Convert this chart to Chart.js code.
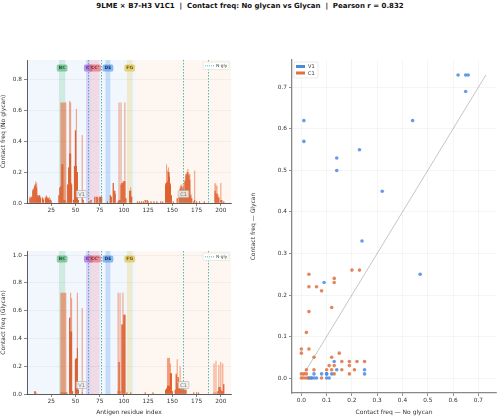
<!DOCTYPE html>
<html>
<head>
<meta charset="utf-8">
<script src="https://cdn.jsdelivr.net/npm/chart.js@4.4.0/dist/chart.umd.min.js"></script>
<style>
  body { margin:0; background:#fff; width:500px; height:416px; overflow:hidden; position:relative; font-family:"DejaVu Sans", sans-serif; }
  #title { position:absolute; left:0; top:2px; width:500px; text-align:center; font-weight:bold; font-size:7px; color:#111; white-space:pre; }
  canvas { position:absolute; }
</style>
</head>
<body>
<div id="title">9LME × B7-H3 V1C1  |  Contact freq: No glycan vs Glycan  |  Pearson r = 0.832</div>
<canvas id="topChart" width="240" height="170" style="left:0;top:50px"></canvas>
<canvas id="bottomChart" width="240" height="176" style="left:0;top:240px"></canvas>
<canvas id="scatterChart" width="250" height="366" style="left:250px;top:50px"></canvas>
<script>
// ---- residue contact data (sparse: residues with any contact) ----
const noGlyRes  = [3,4,5,6,7,8,9,10,11,12,13,14,16,17,19,20,21,22,23,24,25,33,34,35,36,37,38,39,40,42,43,44,45,46,48,49,50,51,52,53,57,58,64,66,70,72,73,75,76,77,83,86,87,89,90,91,94,95,96,97,98,99,100,101,102,106,107,108,114,116,118,120,122,124,125,128,131,134,138,140,143,144,145,146,147,148,149,151,155,157,158,159,160,161,162,163,164,165,166,167,168,169,170,172,173,175,178,183,194,195,196,197,198,200,201,203];
const noGlyPeak = [.04,.04,.04,.09,.10,.12,.14,.13,.05,.05,.05,.04,.04,.03,.04,.05,.04,.03,.04,.03,.02,.05,.10,.65,.65,.65,.65,.65,.65,.12,.23,.66,.65,.13,.02,.24,.47,.61,.20,.02,.44,.02,.01,.02,.04,.04,.04,.04,.04,.04,.01,.05,.04,.13,.08,.08,.01,.65,.02,.65,.13,.14,.14,.65,.03,.08,.10,.04,.01,.01,.01,.01,.02,.02,.01,.01,.01,.01,.01,.01,.13,.25,.21,.23,.20,.13,.05,.01,.03,.05,.10,.12,.10,.12,.08,.15,.19,.20,.22,.19,.19,.06,.03,.01,.21,.01,.01,.01,.13,.12,.11,.06,.04,.13,.02,.01];
const noGlyMean = [.03,.03,.04,.08,.09,.11,.12,.10,.05,.04,.05,.03,.03,.02,.03,.04,.03,.03,.02,.02,.01,.05,.10,.11,.25,.25,.02,.02,.01,.12,.23,.32,.32,.12,.02,.24,.47,.24,.20,.02,.03,.02,.01,.02,.04,.04,.03,.04,.04,.04,.01,.05,.04,.13,.08,.06,.01,.02,.02,.12,.13,.13,.14,.14,.03,.08,.08,.04,.01,.01,.01,.01,.02,.02,.01,.01,.01,.01,.01,.01,.12,.13,.14,.20,.17,.12,.05,.01,.03,.05,.09,.11,.08,.10,.07,.14,.18,.19,.20,.18,.15,.05,.03,.01,.02,.01,.01,.01,.08,.06,.06,.04,.03,.02,.02,.01];

const glyRes  = [8,9,35,36,37,38,39,40,41,44,45,46,47,50,51,52,53,57,94,95,96,98,99,100,101,103,107,122,130,143,144,145,146,147,148,149,150,153,154,155,156,157,158,159,160,161,162,163,164,172,175,177,193,195,197,198,199,200,201,202,203];
const glyPeak = [.02,.02,.73,.73,.73,.73,.73,.73,.01,.55,.73,.69,.02,.25,.26,.73,.03,.62,.73,.23,.73,.50,.73,.57,.57,.01,.01,.01,.01,.03,.04,.26,.26,.26,.22,.15,.02,.03,.15,.25,.12,.06,.20,.04,.03,.04,.03,.03,.03,.01,.01,.01,.22,.24,.02,.21,.05,.23,.02,.22,.07];
const glyMean = [.02,.01,.01,.01,.01,.01,.01,.01,.01,.55,.45,.45,.02,.25,.26,.33,.03,.01,.02,.23,.02,.50,.50,.57,.57,.01,.01,.01,.01,.03,.04,.06,.06,.06,.15,.15,.02,.03,.14,.08,.12,.06,.04,.04,.03,.04,.03,.03,.03,.01,.01,.01,.01,.01,.02,.05,.05,.03,.02,.02,.07];

// ---- annotations ----
const domainNames = ['V1', 'C1'];
const domainStart = [0, 112.5];
const domainEnd   = [112.5, 210.5];
const loopNames = ['BC', "C'", "CC'", 'DE', 'FG'];
const loopStart = [33, 61, 65.5, 81, 103];
const loopEnd   = [39.5, 65.5, 74.8, 86, 109];
const nglySites = [63, 76, 161, 187];

// ---- tick labels ----
const residueTicks = [25, 50, 75, 100, 125, 150, 175, 200];
const noGlyTicks = [0, 0.2, 0.4, 0.6, 0.8];
const glyTicks = [0, 0.2, 0.4, 0.6, 0.8, 1.0];
const freqTicks = [0, 0.1, 0.2, 0.3, 0.4, 0.5, 0.6, 0.7];

// ---- scatter data ----
const v1NoGly = [0.62,0.65,0.66,0.65,0.01,0.01,0.14,0.14,0.23,0.32,0.44,0.24,0.47,0.09,0.13,0.25,0.25,0.14,0.10,0.08,0.12,0.04,0.06,0.10,0.11,0.05,0.05,0.10,0.03];
const v1Gly   = [0.73,0.73,0.73,0.69,0.62,0.57,0.53,0.50,0.55,0.45,0.62,0.33,0.25,0.23,0.04,0.02,0.01,0.02,0.01,0.01,0.01,0.00,0.00,0.00,0.00,0.00,0.01,0.01,0.00];
const c1NoGly = [0.03,0.03,0.06,0.08,0.20,0.23,0.13,0.13,0.12,0.03,0.02,0.00,0.03,0.00,0.05,0.12,0.15,0.02,0.05,0.10,0.11,0.13,0.12,0.16,0.16,0.19,0.19,0.19,0.21,0.22,0.25,0.13,0.08,0.00,0.01,0.02,0.00,0.01,0.02,0.03,0.04];
const c1Gly   = [0.25,0.22,0.22,0.21,0.26,0.26,0.24,0.23,0.17,0.16,0.11,0.07,0.07,0.06,0.05,0.05,0.06,0.02,0.02,0.02,0.03,0.03,0.02,0.04,0.02,0.04,0.03,0.01,0.02,0.04,0.04,0.01,0.00,0.01,0.01,0.01,0.00,0.00,0.00,0.00,0.00];
const diagLine = [0, 0.73];

const loopFill  = ['rgba(60,180,110,0.20)', 'rgba(150,100,220,0.25)', 'rgba(225,100,130,0.20)', 'rgba(60,140,235,0.25)', 'rgba(220,200,80,0.25)'];
const loopTag   = ['rgba(60,170,100,0.55)', 'rgba(150,100,220,0.65)', 'rgba(230,90,100,0.6)', 'rgba(70,140,230,0.6)', 'rgba(225,190,60,0.65)'];
const loopText  = ['#1d5a33', '#3d2170', '#6a1a25', '#163c70', '#6a5310'];
const domainFill = ['rgba(70,145,240,0.07)', 'rgba(245,150,80,0.08)'];
const nglyColor = 'rgba(60,175,165,0.95)';

window.onload = main;

function main(){
    Chart.defaults.font.family = '"DejaVu Sans", sans-serif';
    Chart.defaults.color = '#333';
    contactBars('topChart', noGlyRes, noGlyPeak, noGlyMean, 0.925, noGlyTicks, 'Contact freq (No glycan)', '', 10, 17);
    contactBars('bottomChart', glyRes, glyPeak, glyMean, 1.03, glyTicks, 'Contact freq (Glycan)', 'Antigen residue index', 11, 22);
    scatterChart();
}

function toPoints(xs, ys){
    return xs.map(function(x, i){ return {x: x, y: ys[i]}; });
}

function fixedTicks(list){
    return function(s){ s.ticks = list.map(function(v){ return {value: v}; }); };
}

var panelDecor = {
    id: 'panelDecor',
    beforeDraw: function(chart){
        var ctx = chart.ctx, a = chart.chartArea, x = chart.scales.x;
        ctx.save();
        domainNames.forEach(function(n, i){
            var x0 = x.getPixelForValue(domainStart[i]), x1 = x.getPixelForValue(domainEnd[i]);
            x0 = Math.max(x0, a.left); x1 = Math.min(x1, a.right);
            ctx.fillStyle = domainFill[i];
            ctx.fillRect(x0, a.top, x1 - x0, a.bottom - a.top);
        });
        loopNames.forEach(function(n, i){
            var x0 = x.getPixelForValue(loopStart[i]), x1 = x.getPixelForValue(loopEnd[i]);
            ctx.fillStyle = loopFill[i];
            ctx.fillRect(x0, a.top, x1 - x0, a.bottom - a.top);
        });
        ctx.restore();
    },
    afterDatasetsDraw: function(chart){
        var ctx = chart.ctx, a = chart.chartArea, x = chart.scales.x;
        ctx.save();
        // N-glycosylation sites
        ctx.strokeStyle = nglyColor;
        ctx.lineWidth = 0.9;
        ctx.setLineDash([1.5, 1.5]);
        nglySites.forEach(function(s){
            var px = Math.round(x.getPixelForValue(s)) + 0.5;
            ctx.beginPath(); ctx.moveTo(px, a.top); ctx.lineTo(px, a.bottom); ctx.stroke();
        });
        ctx.setLineDash([]);
        // loop tags
        ctx.font = 'bold 4.5px "DejaVu Sans"';
        ctx.textAlign = 'center'; ctx.textBaseline = 'middle';
        loopNames.forEach(function(n, i){
            var cx = x.getPixelForValue((loopStart[i] + loopEnd[i]) / 2);
            var w = ctx.measureText(n).width + 4, cy = a.top + 8;
            ctx.fillStyle = loopTag[i];
            roundRect(ctx, cx - w / 2, cy - 3.5, w, 7, 1.5); ctx.fill();
            ctx.fillStyle = loopText[i];
            ctx.fillText(n, cx, cy + 0.3);
        });
        // domain tags
        ctx.font = '5px "DejaVu Sans"';
        domainNames.forEach(function(n, i){
            var cx = x.getPixelForValue((domainStart[i] + domainEnd[i]) / 2), cy = a.bottom - 9;
            var w = ctx.measureText(n).width + 4;
            ctx.fillStyle = 'rgba(240,240,240,0.85)';
            ctx.strokeStyle = '#aaa'; ctx.lineWidth = 0.6;
            roundRect(ctx, cx - w / 2, cy - 3.5, w, 7, 1); ctx.fill(); ctx.stroke();
            ctx.fillStyle = '#777';
            ctx.fillText(n, cx, cy + 0.3);
        });
        // legend
        var lx = a.right - 28, ly = a.top + 2;
        ctx.fillStyle = 'rgba(255,255,255,0.9)';
        ctx.strokeStyle = '#ddd'; ctx.lineWidth = 0.6;
        roundRect(ctx, lx, ly, 26, 7.5, 1); ctx.fill(); ctx.stroke();
        ctx.strokeStyle = nglyColor; ctx.lineWidth = 0.9;
        ctx.setLineDash([1, 1]);
        ctx.beginPath(); ctx.moveTo(lx + 2, ly + 3.8); ctx.lineTo(lx + 11, ly + 3.8); ctx.stroke();
        ctx.setLineDash([]);
        ctx.font = '4.3px "DejaVu Sans"'; ctx.fillStyle = '#444'; ctx.textAlign = 'left';
        ctx.fillText('N-gly', lx + 13, ly + 4);
        ctx.restore();
    }
};

function roundRect(ctx, x, y, w, h, r){
    ctx.beginPath();
    ctx.moveTo(x + r, y);
    ctx.arcTo(x + w, y, x + w, y + h, r);
    ctx.arcTo(x + w, y + h, x, y + h, r);
    ctx.arcTo(x, y + h, x, y, r);
    ctx.arcTo(x, y, x + w, y, r);
    ctx.closePath();
}

function contactBars(id, res, peak, mean, yMax, yTicks, yTitle, xTitle, padTop, xHeight){
    var ctx = document.getElementById(id).getContext('2d');
    new Chart(ctx, {
        type: 'bar',
        data: {
            datasets: [
                { data: toPoints(res, peak), backgroundColor: 'rgba(234,110,62,0.62)', order: 2,
                  barPercentage: 1.15, categoryPercentage: 1, grouped: false },
                { data: toPoints(res, mean), backgroundColor: 'rgba(220,95,45,0.95)', order: 1,
                  barPercentage: 1.15, categoryPercentage: 1, grouped: false }
            ]
        },
        options: {
            responsive: false,
            animation: false,
            layout: { padding: { top: padTop, right: 9, left: 0, bottom: 0 } },
            plugins: { legend: { display: false }, tooltip: { enabled: false } },
            scales: {
                x: {
                    type: 'linear', min: 0, max: 210.5, offset: false,
                    afterFit: function(s){ s.height = xHeight; },
                    afterBuildTicks: fixedTicks(residueTicks),
                    ticks: { font: { size: 5.8 }, padding: 1, maxRotation: 0, color: '#333' },
                    grid: { offset: false, drawOnChartArea: false, tickLength: 3, color: '#333', lineWidth: 0.6 },
                    border: { color: '#333', width: 0.8 },
                    title: { display: xTitle !== '', text: xTitle, font: { size: 6 }, padding: { top: 0, bottom: 0 }, color: '#333' }
                },
                y: {
                    min: 0, max: yMax,
                    afterFit: function(s){ s.width = 27; },
                    afterBuildTicks: fixedTicks(yTicks),
                    ticks: { font: { size: 5.8 }, padding: 2, color: '#333',
                             callback: function(v){ return v.toFixed(1); } },
                    grid: { color: 'rgba(0,0,0,0.07)', lineWidth: 0.6, tickLength: 3, tickColor: '#333' },
                    border: { color: '#333', width: 0.8 },
                    title: { display: true, text: yTitle, font: { size: 6 }, padding: { top: 0, bottom: 1 }, color: '#333' }
                }
            }
        },
        plugins: [panelDecor]
    });
}

var scatterLegend = {
    id: 'scatterLegend',
    afterDatasetsDraw: function(chart){
        var ctx = chart.ctx, a = chart.chartArea;
        var lx = a.left + 2, ly = a.top + 2;
        ctx.save();
        ctx.fillStyle = 'rgba(255,255,255,0.9)';
        ctx.strokeStyle = '#ddd'; ctx.lineWidth = 0.6;
        roundRect(ctx, lx, ly, 24, 16, 1.2); ctx.fill(); ctx.stroke();
        var names = ['V1', 'C1'], cols = ['#4a8be0', '#e07040'];
        ctx.font = '5px "DejaVu Sans"'; ctx.textBaseline = 'middle'; ctx.textAlign = 'left';
        names.forEach(function(n, i){
            var y = ly + 4.5 + i * 6.5;
            ctx.fillStyle = cols[i];
            ctx.fillRect(lx + 2, y - 1.5, 9, 3);
            ctx.fillStyle = '#333';
            ctx.fillText(n, lx + 14, y + 0.3);
        });
        ctx.restore();
    }
};

function scatterChart(){
    var ctx = document.getElementById('scatterChart').getContext('2d');
    new Chart(ctx, {
        type: 'scatter',
        data: {
            datasets: [
                { type: 'line', data: toPoints(diagLine, diagLine), borderColor: 'rgba(150,150,150,0.8)',
                  borderWidth: 0.7, pointRadius: 0, order: 3 },
                { label: 'V1', data: toPoints(v1NoGly, v1Gly), backgroundColor: 'rgba(74,139,224,0.85)',
                  borderWidth: 0, pointRadius: 1.8, order: 1 },
                { label: 'C1', data: toPoints(c1NoGly, c1Gly), backgroundColor: 'rgba(224,112,64,0.85)',
                  borderWidth: 0, pointRadius: 1.8, order: 2 }
            ]
        },
        options: {
            responsive: false,
            animation: false,
            layout: { padding: { top: 10, right: 3, left: 0, bottom: 0 } },
            plugins: { legend: { display: false }, tooltip: { enabled: false } },
            scales: {
                x: {
                    type: 'linear', min: -0.037, max: 0.77,
                    afterFit: function(s){ s.height = 23; },
                    afterBuildTicks: fixedTicks(freqTicks),
                    ticks: { font: { size: 5.8 }, padding: 1, color: '#333',
                             callback: function(v){ return v.toFixed(1); } },
                    grid: { color: 'rgba(0,0,0,0.07)', lineWidth: 0.6, tickLength: 3, tickColor: '#444' },
                    border: { color: '#888', width: 1.3 },
                    title: { display: true, text: 'Contact freq — No glycan', font: { size: 6 }, padding: { top: 0, bottom: 0 }, color: '#333' }
                },
                y: {
                    min: -0.036, max: 0.766,
                    afterFit: function(s){ s.width = 42; },
                    afterBuildTicks: fixedTicks(freqTicks),
                    ticks: { font: { size: 5.8 }, padding: 2, color: '#333',
                             callback: function(v){ return v.toFixed(1); } },
                    grid: { color: 'rgba(0,0,0,0.07)', lineWidth: 0.6, tickLength: 3, tickColor: '#444' },
                    border: { color: '#888', width: 1.3 },
                    title: { display: true, text: 'Contact freq — Glycan', font: { size: 6 }, padding: { top: 0, bottom: 3 }, color: '#333' }
                }
            }
        },
        plugins: [scatterLegend]
    });
}
</script>
</body>
</html>
